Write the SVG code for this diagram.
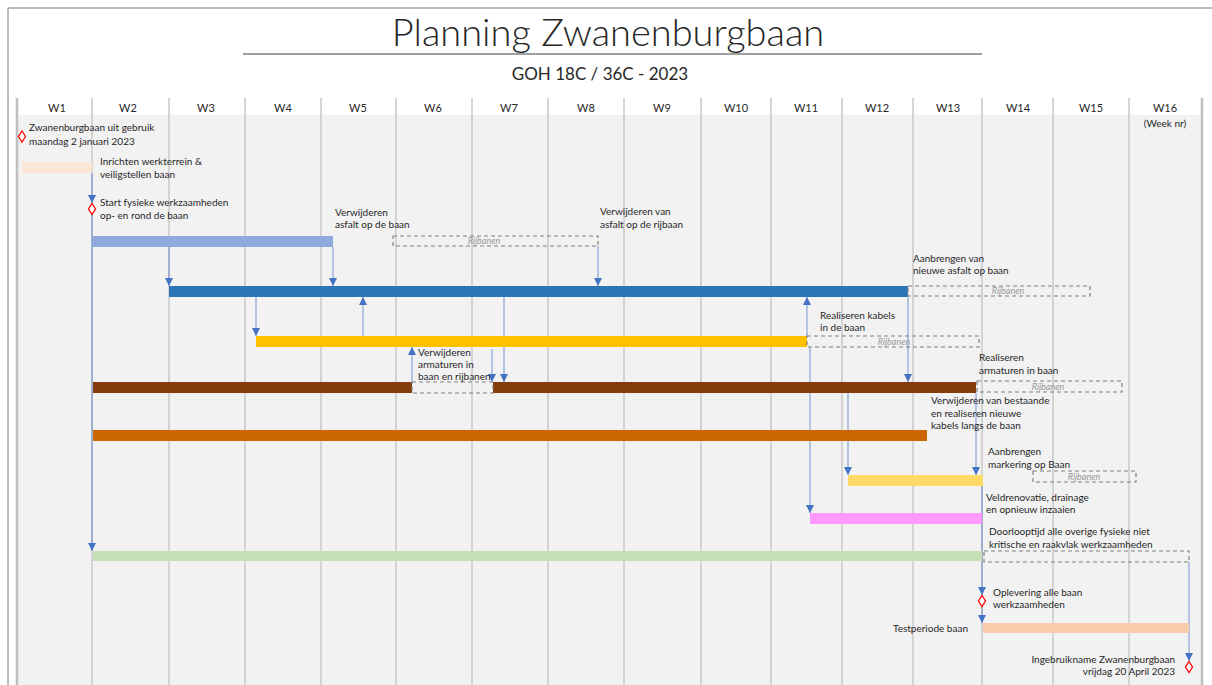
<svg xmlns="http://www.w3.org/2000/svg" width="1212" height="685" viewBox="0 0 1212 685">
<defs>
<marker id="arr" markerUnits="userSpaceOnUse" markerWidth="9" markerHeight="9" refX="8" refY="4" orient="auto">
<path d="M0,0 L8,4 L0,8 z" fill="#4472c4"/>
</marker>
<style>
text{font-family:Lato,"Liberation Sans",sans-serif;fill:#262626}
.lbl{font-size:10px}
.wk{font-size:11px;text-anchor:middle}
.grid{stroke:#c9c9c9;stroke-width:1.5}
.dash{fill:none;stroke:#808080;stroke-width:1.2;stroke-dasharray:4 3}
.rij{font-size:9px;font-style:italic;fill:#999;text-anchor:middle}
.con{stroke:#4472c4;stroke-opacity:0.6;stroke-width:1.2;fill:none;marker-end:url(#arr)}
.ms{fill:#fff;stroke:#ff0000;stroke-width:1.3}
</style>
</defs>
<rect x="0" y="0" width="1212" height="685" fill="#fff"/>
<g id="frame">
<line x1="8" y1="8" x2="1212" y2="8" stroke="#a6a6a6" stroke-width="1.5"/>
<line x1="8" y1="8" x2="8" y2="685" stroke="#a6a6a6" stroke-width="1.5"/>
</g>
<g id="title">
<text x="608" y="46" font-size="38" font-weight="300" text-anchor="middle">Planning Zwanenburgbaan</text>
<line x1="243" y1="54" x2="982" y2="54" stroke="#404040" stroke-width="1.2"/>
<text x="600" y="80" font-size="17" text-anchor="middle">GOH 18C / 36C - 2023</text>
</g>
<g id="grid">
<rect x="17" y="115" width="1185" height="570" fill="#f2f2f2"/>
<line class="grid" x1="92" y1="98" x2="92" y2="685"/>
<line class="grid" x1="169" y1="98" x2="169" y2="685"/>
<line class="grid" x1="245" y1="98" x2="245" y2="685"/>
<line class="grid" x1="321" y1="98" x2="321" y2="685"/>
<line class="grid" x1="396" y1="98" x2="396" y2="685"/>
<line class="grid" x1="472" y1="98" x2="472" y2="685"/>
<line class="grid" x1="548" y1="98" x2="548" y2="685"/>
<line class="grid" x1="624" y1="98" x2="624" y2="685"/>
<line class="grid" x1="701" y1="98" x2="701" y2="685"/>
<line class="grid" x1="771" y1="98" x2="771" y2="685"/>
<line class="grid" x1="842" y1="98" x2="842" y2="685"/>
<line class="grid" x1="913" y1="98" x2="913" y2="685"/>
<line class="grid" x1="982" y1="98" x2="982" y2="685"/>
<line class="grid" x1="1053" y1="98" x2="1053" y2="685"/>
<line class="grid" x1="1129" y1="98" x2="1129" y2="685"/>
<line x1="17" y1="98" x2="17" y2="685" stroke="#bfbfbf" stroke-width="2.5"/>
<line x1="1202" y1="98" x2="1202" y2="685" stroke="#bfbfbf" stroke-width="2.5"/>
<text class="wk" x="57" y="112">W1</text>
<text class="wk" x="128" y="112">W2</text>
<text class="wk" x="206" y="112">W3</text>
<text class="wk" x="283" y="112">W4</text>
<text class="wk" x="358" y="112">W5</text>
<text class="wk" x="433" y="112">W6</text>
<text class="wk" x="509" y="112">W7</text>
<text class="wk" x="586" y="112">W8</text>
<text class="wk" x="662" y="112">W9</text>
<text class="wk" x="736" y="112">W10</text>
<text class="wk" x="806" y="112">W11</text>
<text class="wk" x="877" y="112">W12</text>
<text class="wk" x="948" y="112">W13</text>
<text class="wk" x="1018" y="112">W14</text>
<text class="wk" x="1091" y="112">W15</text>
<text class="wk" x="1165" y="112">W16</text>
<text class="lbl" x="1165" y="127" text-anchor="middle" font-size="9">(Week nr)</text>
</g>
<g id="connectors">
<line class="con" x1="92" y1="173" x2="92" y2="203"/>
<line class="con" x1="92" y1="215" x2="92" y2="551"/>
<line class="con" x1="169" y1="247" x2="169" y2="286"/>
<line class="con" x1="333" y1="247" x2="333" y2="286"/>
<line class="con" x1="598" y1="246" x2="598" y2="286"/>
<line class="con" x1="256" y1="297" x2="256" y2="336"/>
<line class="con" x1="363" y1="336" x2="363" y2="297"/>
<line class="con" x1="807" y1="336" x2="807" y2="297"/>
<line class="con" x1="504" y1="297" x2="504" y2="382"/>
<line class="con" x1="412" y1="382" x2="412" y2="347"/>
<line class="con" x1="492" y1="349" x2="492" y2="382"/>
<line class="con" x1="908" y1="297" x2="908" y2="382"/>
<line class="con" x1="848" y1="393" x2="848" y2="475"/>
<line class="con" x1="976" y1="393" x2="976" y2="475"/>
<line class="con" x1="810" y1="347" x2="810" y2="513"/>
<line class="con" x1="982" y1="486" x2="982" y2="595"/>
<line class="con" x1="982" y1="607" x2="982" y2="623"/>
<line class="con" x1="1189" y1="562" x2="1189" y2="661"/>
</g>
<g id="m-start">
<path class="ms" d="M22,131 L25.5,136.5 L22,142 L18.5,136.5 z"/>
<text class="lbl" x="29" y="131">Zwanenburgbaan uit gebruik</text>
<text class="lbl" x="29" y="145">maandag 2 januari 2023</text>
</g>
<g id="t-inrichten">
<rect x="22" y="162" width="70" height="11" fill="#fbe5d6"/>
<text class="lbl" x="100" y="165">Inrichten werkterrein &amp;</text>
<text class="lbl" x="100" y="178">veiligstellen baan</text>
</g>
<g id="m-fysiek">
<path class="ms" d="M92,203.5 L95.5,209 L92,214.5 L88.5,209 z"/>
<text class="lbl" x="100" y="206">Start fysieke werkzaamheden</text>
<text class="lbl" x="100" y="219">op- en rond de baan</text>
</g>
<g id="t-asfalt-baan">
<rect x="92" y="236" width="241" height="11" fill="#8faadc"/>
<text class="lbl" x="335" y="216">Verwijderen</text>
<text class="lbl" x="335" y="228">asfalt op de baan</text>
</g>
<g id="t-asfalt-rijbaan">
<rect class="dash" x="393" y="236" width="205" height="10"/>
<text class="rij" x="484" y="244">Rijbanen</text>
<text class="lbl" x="600" y="215">Verwijderen van</text>
<text class="lbl" x="600" y="228">asfalt op de rijbaan</text>
</g>
<g id="t-nieuw-asfalt">
<rect x="169" y="286" width="739" height="11" fill="#2e75b6"/>
<rect class="dash" x="908" y="286" width="182" height="10"/>
<text class="rij" x="1008" y="294">Rijbanen</text>
<text class="lbl" x="913" y="262">Aanbrengen van</text>
<text class="lbl" x="913" y="274">nieuwe asfalt op baan</text>
</g>
<g id="t-kabels">
<rect x="256" y="336" width="551" height="11" fill="#ffc000"/>
<rect class="dash" x="807" y="336" width="172" height="11"/>
<text class="rij" x="894" y="345">Rijbanen</text>
<text class="lbl" x="820" y="319">Realiseren kabels</text>
<text class="lbl" x="820" y="331">in de baan</text>
</g>
<g id="t-armaturen">
<rect x="93" y="382" width="319" height="11" fill="#843c0c"/>
<rect x="493" y="382" width="483" height="11" fill="#843c0c"/>
<rect class="dash" x="412" y="382" width="81" height="11"/>
<rect class="dash" x="977" y="381" width="145" height="11"/>
<text class="rij" x="1048" y="390">Rijbanen</text>
<text class="lbl" x="418" y="356">Verwijderen</text>
<text class="lbl" x="418" y="368">armaturen in</text>
<text class="lbl" x="418" y="380">baan en rijbanen</text>
<text class="lbl" x="979" y="361">Realiseren</text>
<text class="lbl" x="979" y="374">armaturen in baan</text>
</g>
<g id="t-kabels-langs">
<rect x="93" y="430" width="834" height="11" fill="#cc6600"/>
<text class="lbl" x="931" y="404">Verwijderen van bestaande</text>
<text class="lbl" x="931" y="417">en realiseren nieuwe</text>
<text class="lbl" x="931" y="429">kabels langs de baan</text>
</g>
<g id="t-markering">
<rect x="848" y="475" width="135" height="11" fill="#ffd966"/>
<rect class="dash" x="1033" y="471" width="103" height="11"/>
<text class="rij" x="1084" y="480">Rijbanen</text>
<text class="lbl" x="988" y="455">Aanbrengen</text>
<text class="lbl" x="988" y="468">markering op Baan</text>
</g>
<g id="t-veld">
<rect x="810" y="513" width="172" height="11" fill="#ff99ff"/>
<text class="lbl" x="986" y="501">Veldrenovatie, drainage</text>
<text class="lbl" x="986" y="513">en opnieuw inzaaien</text>
</g>
<g id="t-overig">
<rect x="93" y="551" width="889" height="10" fill="#c5e0b4"/>
<rect class="dash" x="984" y="551" width="205" height="11"/>
<text class="lbl" x="989" y="535">Doorlooptijd alle overige fysieke niet</text>
<text class="lbl" x="989" y="548">kritische en raakvlak werkzaamheden</text>
</g>
<g id="m-oplevering">
<path class="ms" d="M982,595.5 L985.5,601 L982,606.5 L978.5,601 z"/>
<text class="lbl" x="993" y="596">Oplevering alle baan</text>
<text class="lbl" x="993" y="608">werkzaamheden</text>
</g>
<g id="t-test">
<rect x="983" y="623" width="206" height="10" fill="#f8cbad"/>
<text class="lbl" x="968" y="632" text-anchor="end">Testperiode baan</text>
</g>
<g id="m-ingebruik">
<path class="ms" d="M1189,661.5 L1192.5,667 L1189,672.5 L1185.5,667 z"/>
<text class="lbl" x="1175" y="663" text-anchor="end">Ingebruikname Zwanenburgbaan</text>
<text class="lbl" x="1175" y="675" text-anchor="end">vrijdag 20 April 2023</text>
</g>
</svg>
